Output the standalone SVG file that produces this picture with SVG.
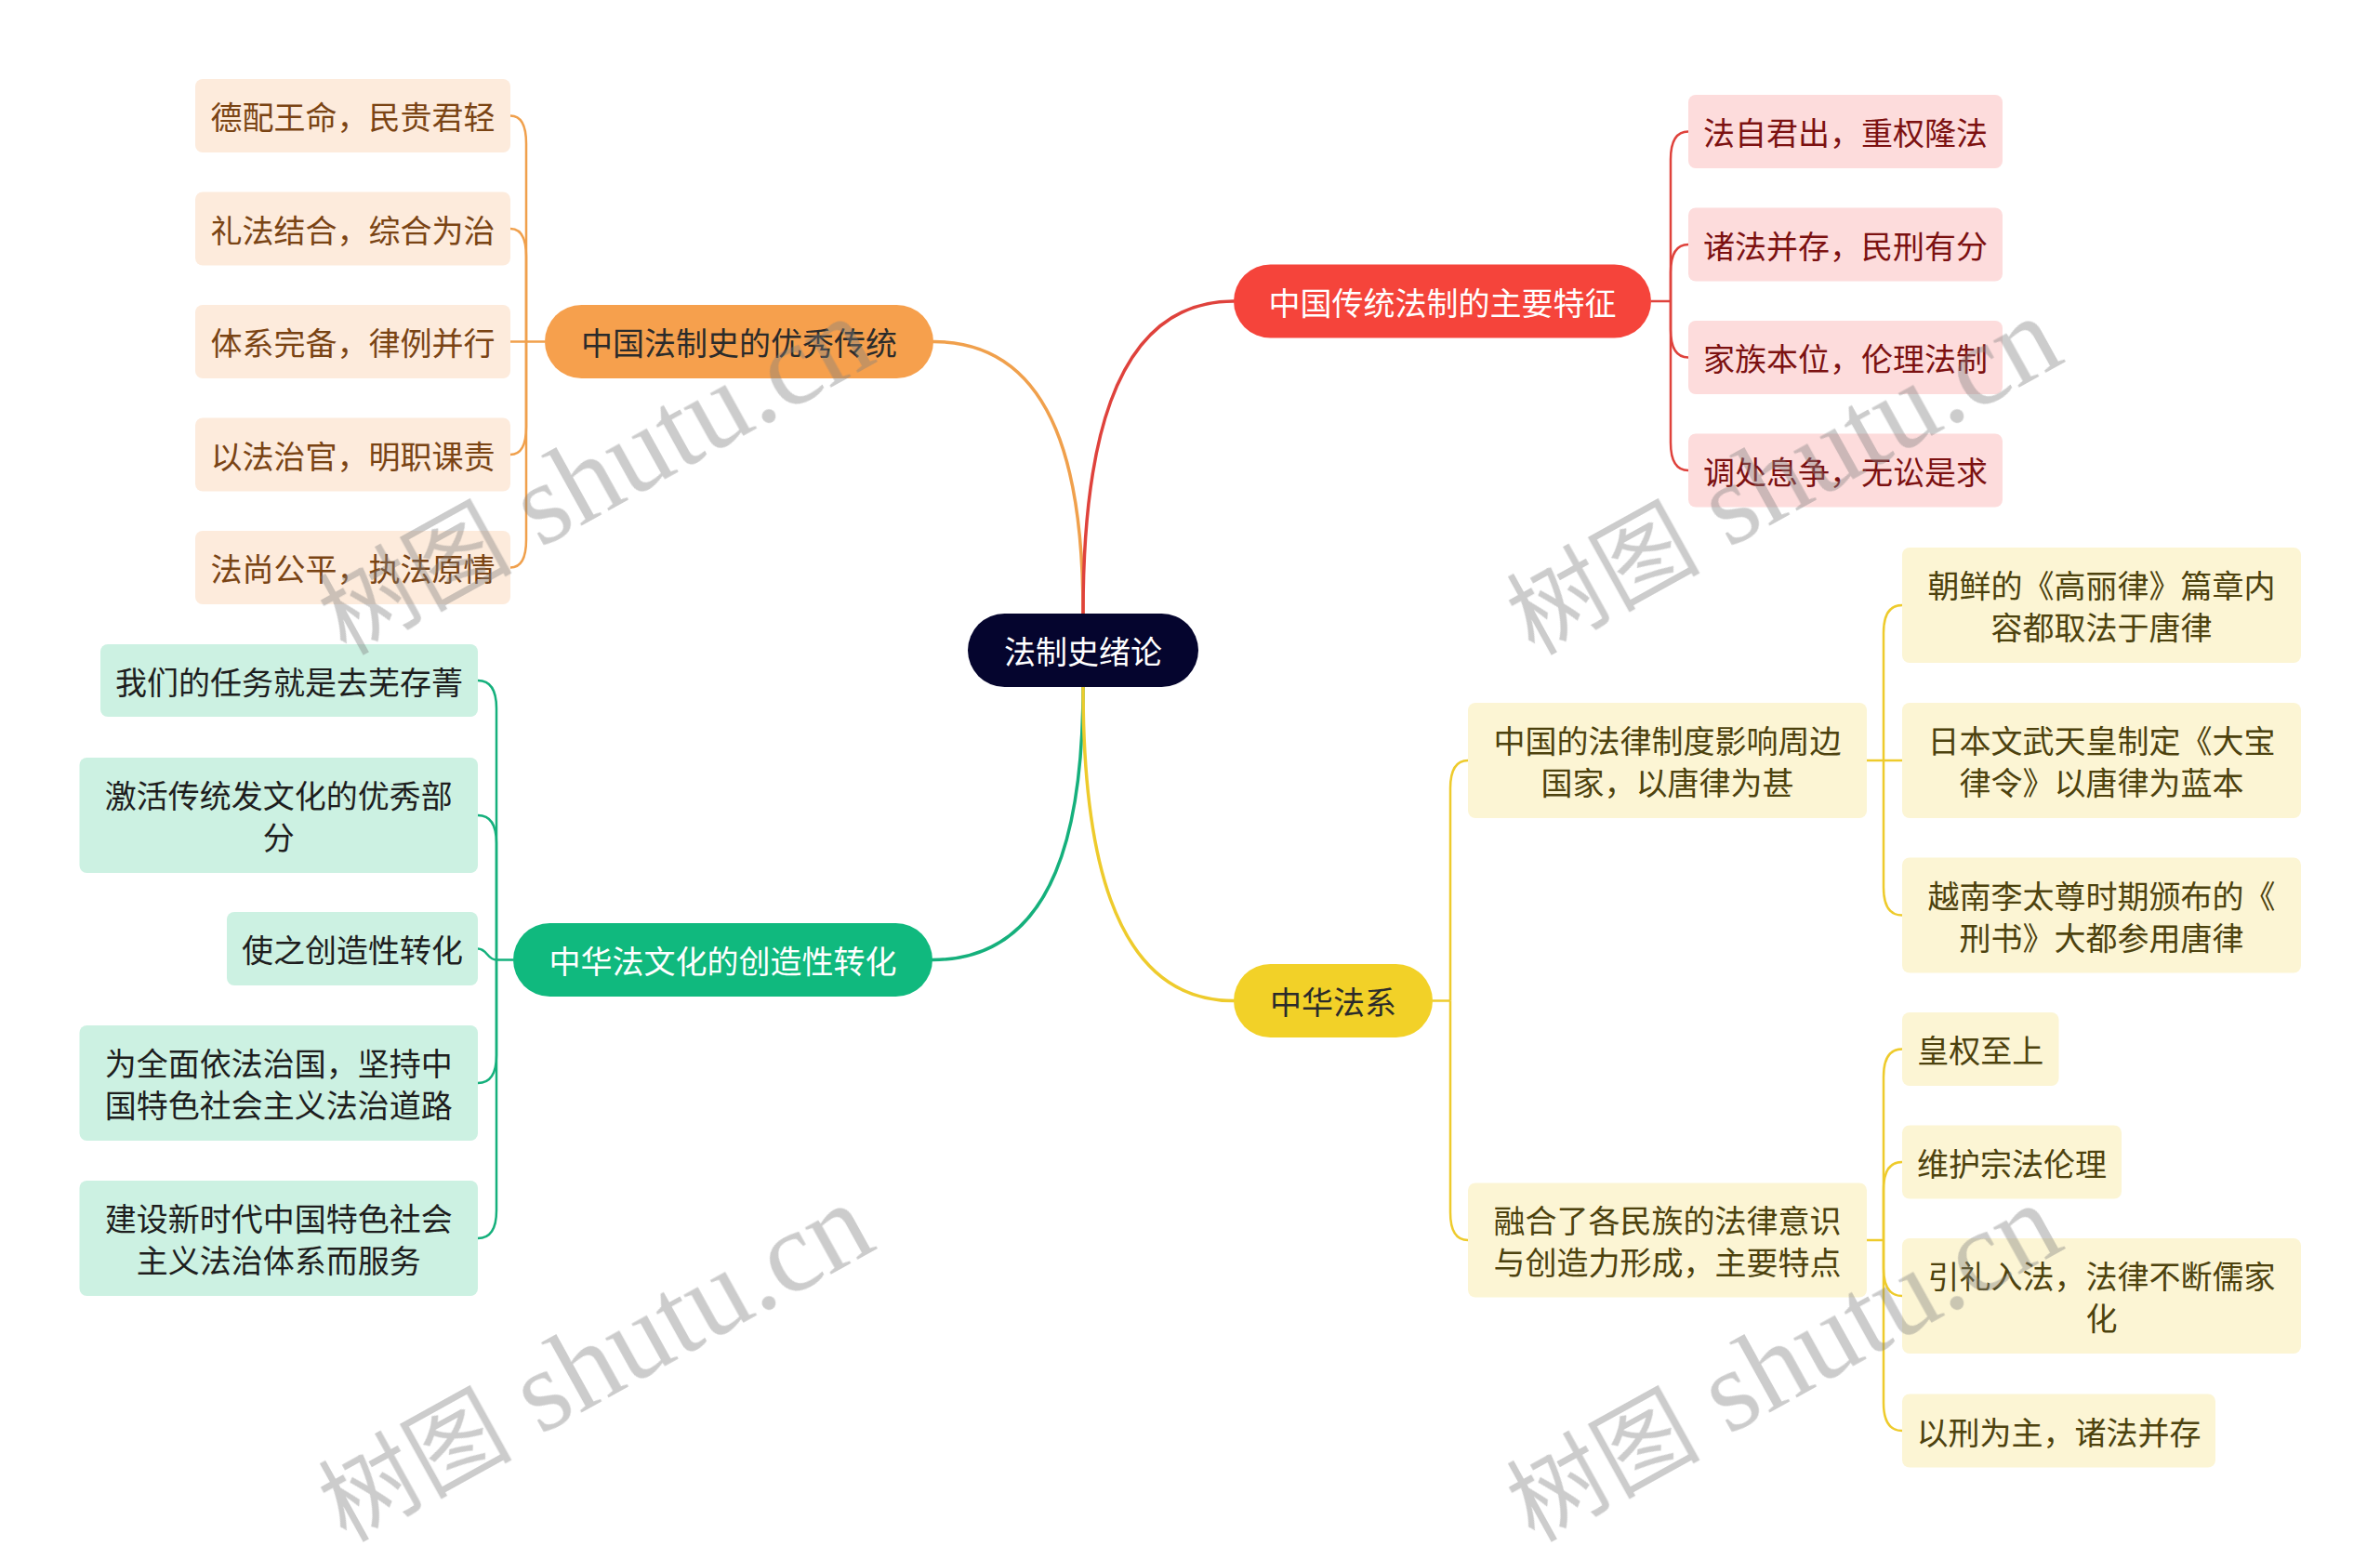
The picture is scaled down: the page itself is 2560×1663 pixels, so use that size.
<svg xmlns="http://www.w3.org/2000/svg" width="2560" height="1663" viewBox="0 0 2560 1663">
<defs>
<style>
.t{font-family:"Noto Sans CJK SC","Noto Sans",sans-serif;font-size:34px;text-anchor:middle;dominant-baseline:central}
.main{fill:none;stroke-width:3.5;stroke-linecap:round}
.sub{fill:none;stroke-width:2.5}
.o{stroke:#F0A04C}.r{stroke:#DF423C}.g{stroke:#15B07C}.y{stroke:#EECB2C}
.nO{fill:#F6A04D}.lO{fill:#FDEBDC}.tO{fill:#7A4414}
.nR{fill:#F5443B}.lR{fill:#FDDCDC}.tR{fill:#7C1111}
.nG{fill:#10B97E}.lG{fill:#CCF1E2}.tG{fill:#1E1E1E}
.nY{fill:#F2D128}.lY{fill:#FCF5D4}.tY{fill:#4D420E}
.dk{fill:#2B2B2B}.wh{fill:#FFFFFF}
.wm{font-family:"Liberation Serif","Noto Sans CJK SC",serif;fill:#808080;opacity:.4}
</style>
</defs>
<rect width="2560" height="1663" fill="#FFFFFF"/>
<g id="connectors">
<path class="main o" d="M1165,660 C1165,520 1140,367.5 1004,367.5"/>
<path class="main r" d="M1165,660 C1165,500 1190,324 1327,324"/>
<path class="main g" d="M1165,739 C1165,879 1140,1032.5 1003,1032.5"/>
<path class="main y" d="M1165,739 C1165,899 1190,1076.5 1327,1076.5"/>
<g class="sub o">
<path d="M586,367.5 H566"/>
<path d="M566,367.5 V154.5 Q566,124.5 549,124.5"/>
<path d="M566,367.5 V276 Q566,246 549,246"/>
<path d="M566,367.5 H549"/>
<path d="M566,367.5 V459 Q566,489 549,489"/>
<path d="M566,367.5 V580.5 Q566,610.5 549,610.5"/>
</g>
<g class="sub r">
<path d="M1776,324 H1797"/>
<path d="M1797,324 V171.5 Q1797,141.5 1816,141.5"/>
<path d="M1797,324 V293 Q1797,263 1816,263"/>
<path d="M1797,324 V354.5 Q1797,384.5 1816,384.5"/>
<path d="M1797,324 V476 Q1797,506 1816,506"/>
</g>
<g class="sub g">
<path d="M552,1032.5 H534"/>
<path d="M534,1032.5 V762 Q534,732 514,732"/>
<path d="M534,1032.5 V907 Q534,877 514,877"/>
<path d="M534,1032.5 C524,1032.5 524,1020.5 514,1020.5"/>
<path d="M534,1032.5 V1135 Q534,1165 514,1165"/>
<path d="M534,1032.5 V1302 Q534,1332 514,1332"/>
</g>
<g class="sub y">
<path d="M1541,1076.5 H1560"/>
<path d="M1560,1076.5 V848 Q1560,818 1579,818"/>
<path d="M1560,1076.5 V1304 Q1560,1334 1579,1334"/>
<path d="M2008,818 H2026"/>
<path d="M2026,818 V681 Q2026,651 2046,651"/>
<path d="M2026,818 H2046"/>
<path d="M2026,818 V954.5 Q2026,984.5 2046,984.5"/>
<path d="M2008,1334 H2026"/>
<path d="M2026,1334 V1158.5 Q2026,1128.5 2046,1128.5"/>
<path d="M2026,1334 V1280 Q2026,1250 2046,1250"/>
<path d="M2026,1334 V1364 Q2026,1394 2046,1394"/>
<path d="M2026,1334 V1509 Q2026,1539 2046,1539"/>
</g>
</g>

<g id="root"><rect x="1041" y="660" width="248" height="79" rx="39.5" fill="#05052E"/><text class="t wh" x="1165" y="699.5">法制史绪论</text></g>

<g id="n-orange"><rect class="nO" x="586" y="328" width="418" height="79" rx="39.5"/><text class="t dk" x="795" y="367.5">中国法制史的优秀传统</text></g>
<g id="o1"><rect class="lO" x="210" y="85" width="339" height="79" rx="8"/><text class="t tO" x="379.5" y="124.5">德配王命，民贵君轻</text></g>
<g id="o2"><rect class="lO" x="210" y="206.5" width="339" height="79" rx="8"/><text class="t tO" x="379.5" y="246">礼法结合，综合为治</text></g>
<g id="o3"><rect class="lO" x="210" y="328" width="339" height="79" rx="8"/><text class="t tO" x="379.5" y="367.5">体系完备，律例并行</text></g>
<g id="o4"><rect class="lO" x="210" y="449.5" width="339" height="79" rx="8"/><text class="t tO" x="379.5" y="489">以法治官，明职课责</text></g>
<g id="o5"><rect class="lO" x="210" y="571" width="339" height="79" rx="8"/><text class="t tO" x="379.5" y="610.5">法尚公平，执法原情</text></g>

<g id="n-red"><rect class="nR" x="1327" y="284.5" width="449" height="79" rx="39.5"/><text class="t wh" x="1551.5" y="324">中国传统法制的主要特征</text></g>
<g id="r1"><rect class="lR" x="1816" y="102" width="338" height="79" rx="8"/><text class="t tR" x="1985" y="141.5">法自君出，重权隆法</text></g>
<g id="r2"><rect class="lR" x="1816" y="223.5" width="338" height="79" rx="8"/><text class="t tR" x="1985" y="263">诸法并存，民刑有分</text></g>
<g id="r3"><rect class="lR" x="1816" y="345" width="338" height="79" rx="8"/><text class="t tR" x="1985" y="384.5">家族本位，伦理法制</text></g>
<g id="r4"><rect class="lR" x="1816" y="466.5" width="338" height="79" rx="8"/><text class="t tR" x="1985" y="506">调处息争，无讼是求</text></g>

<g id="n-green"><rect class="nG" x="552" y="993" width="451" height="79" rx="39.5"/><text class="t wh" x="777.5" y="1032.5">中华法文化的创造性转化</text></g>
<g id="g1"><rect class="lG" x="108" y="693" width="406" height="78" rx="8"/><text class="t tG" x="311" y="732">我们的任务就是去芜存菁</text></g>
<g id="g2"><rect class="lG" x="85.5" y="815" width="428.5" height="124" rx="8"/><text class="t tG" x="299.75" y="854.5">激活传统发文化的优秀部</text><text class="t tG" x="299.75" y="899.5">分</text></g>
<g id="g3"><rect class="lG" x="244" y="981" width="270" height="79" rx="8"/><text class="t tG" x="379" y="1020.5">使之创造性转化</text></g>
<g id="g4"><rect class="lG" x="85.5" y="1103" width="428.5" height="124" rx="8"/><text class="t tG" x="299.75" y="1142.5">为全面依法治国，坚持中</text><text class="t tG" x="299.75" y="1187.5">国特色社会主义法治道路</text></g>
<g id="g5"><rect class="lG" x="85.5" y="1270" width="428.5" height="124" rx="8"/><text class="t tG" x="299.75" y="1309.5">建设新时代中国特色社会</text><text class="t tG" x="299.75" y="1354.5">主义法治体系而服务</text></g>

<g id="n-yellow"><rect class="nY" x="1327" y="1037" width="214" height="79" rx="39.5"/><text class="t dk" x="1434" y="1076.5">中华法系</text></g>
<g id="y-m1"><rect class="lY" x="1579" y="756" width="429" height="124" rx="8"/><text class="t tY" x="1793.5" y="795.5">中国的法律制度影响周边</text><text class="t tY" x="1793.5" y="840.5">国家，以唐律为甚</text></g>
<g id="y-m2"><rect class="lY" x="1579" y="1272.5" width="429" height="123" rx="8"/><text class="t tY" x="1793.5" y="1311.5">融合了各民族的法律意识</text><text class="t tY" x="1793.5" y="1356.5">与创造力形成，主要特点</text></g>
<g id="ya"><rect class="lY" x="2046" y="589" width="429" height="124" rx="8"/><text class="t tY" x="2260.5" y="628.5">朝鲜的《高丽律》篇章内</text><text class="t tY" x="2260.5" y="673.5">容都取法于唐律</text></g>
<g id="yb"><rect class="lY" x="2046" y="756" width="429" height="124" rx="8"/><text class="t tY" x="2260.5" y="795.5">日本文武天皇制定《大宝</text><text class="t tY" x="2260.5" y="840.5">律令》以唐律为蓝本</text></g>
<g id="yc"><rect class="lY" x="2046" y="922.5" width="429" height="124" rx="8"/><text class="t tY" x="2260.5" y="962">越南李太尊时期颁布的《</text><text class="t tY" x="2260.5" y="1007">刑书》大都参用唐律</text></g>
<g id="yd"><rect class="lY" x="2046" y="1089" width="168.5" height="79" rx="8"/><text class="t tY" x="2130.25" y="1128.5">皇权至上</text></g>
<g id="ye"><rect class="lY" x="2046" y="1210.5" width="236" height="79" rx="8"/><text class="t tY" x="2164" y="1250">维护宗法伦理</text></g>
<g id="yf"><rect class="lY" x="2046" y="1332" width="429" height="124" rx="8"/><text class="t tY" x="2260.5" y="1371.5">引礼入法，法律不断儒家</text><text class="t tY" x="2260.5" y="1416.5">化</text></g>
<g id="yg"><rect class="lY" x="2046" y="1499.5" width="337" height="79" rx="8"/><text class="t tY" x="2214.5" y="1539">以刑为主，诸法并存</text></g>

<g id="watermarks" class="wm">
<text transform="translate(372,706) rotate(-29)"><tspan font-size="104">树图</tspan><tspan font-size="124"> shutu.cn</tspan></text>
<text transform="translate(1650,706) rotate(-29)"><tspan font-size="104">树图</tspan><tspan font-size="124"> shutu.cn</tspan></text>
<text transform="translate(372,1660) rotate(-29)"><tspan font-size="104">树图</tspan><tspan font-size="124"> shutu.cn</tspan></text>
<text transform="translate(1650,1660) rotate(-29)"><tspan font-size="104">树图</tspan><tspan font-size="124"> shutu.cn</tspan></text>
</g>
</svg>
